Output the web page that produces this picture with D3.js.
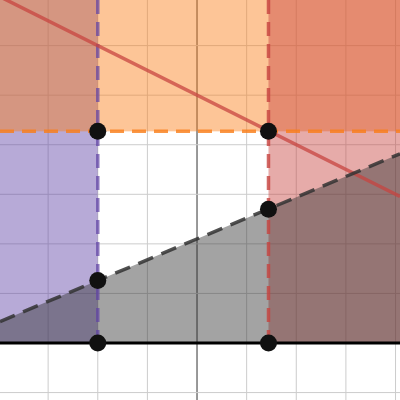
<!DOCTYPE html>
<html>
<head>
<meta charset="UTF-8"/>
<script src="https://cdn.jsdelivr.net/npm/d3@7"></script>
<style>body{margin:0;background:#fff}</style>
</head>
<body>
<div class="graph"></div>
<script>
// plane bounds and grid
const xDomain = [-3.97, 4.09];
const yDomain = [-1.15, 6.92];
const gridTicks = [-4, -3, -2, -1, 0, 1, 2, 3, 4, 5, 6, 7];

// boundaries
const xLeft = -2;        // purple: x < -2
const xRight = 1.44;     // red: x > 1.44
const yTop = 4.27;       // orange: y > 4.27
const slantB = 2.1, slantM = 0.42;   // dashed: y = 2.1 + 0.42x
const redB = 5, redM = -0.5;         // solid red: y = 5 - 0.5x

const pointsX = [-2, 1.44, -2, 1.44, -2, 1.44];
const pointsY = [4.27, 4.27, 0, 0, 1.26, 2.70];

const W = 400, H = 400;
const x = d3.scaleLinear().domain(xDomain).range([0, W]);
const y = d3.scaleLinear().domain(yDomain).range([0, H].reverse());

const svg = d3.select('.graph').append('svg').attr('width', W).attr('height', H);

// grid
svg.selectAll('.gx').data(gridTicks).enter().append('line')
	.attr('x1', d => x(d)).attr('x2', d => x(d)).attr('y1', 0).attr('y2', H)
	.style('stroke', d => d === 0 ? '#777' : '#ccc').style('stroke-width', d => d === 0 ? 1.5 : 1);
svg.selectAll('.gy').data(gridTicks).enter().append('line')
	.attr('y1', d => y(d)).attr('y2', d => y(d)).attr('x1', 0).attr('x2', W)
	.style('stroke', d => d === 0 ? '#777' : '#ccc').style('stroke-width', d => d === 0 ? 1.5 : 1);

const rect = (x0, x1, y0, y1, c) => svg.append('rect')
	.attr('x', x(x0)).attr('width', x(x1) - x(x0))
	.attr('y', y(y1)).attr('height', y(y0) - y(y1))
	.style('fill', c).style('fill-opacity', 0.45);

rect(xDomain[0], xLeft, 0, yDomain[1], '#6042a6');
rect(xDomain[0], xDomain[1], yTop, yDomain[1], '#fa7e19');
rect(xRight, xDomain[1], 0, yDomain[1], '#c74440');

// shaded area under the dashed slant line, above y = 0
const area = d3.area().x(d => x(d)).y0(y(0)).y1(d => y(slantB + slantM * d));
svg.append('path').datum(xDomain).attr('d', area)
	.style('fill', '#333').style('fill-opacity', 0.45);

const line = (b, m) => d3.line().x(d => x(d)).y(d => y(b + m * d))(xDomain);

svg.append('line').attr('x1', x(xLeft)).attr('x2', x(xLeft)).attr('y1', 0).attr('y2', y(0))
	.style('stroke', '#6042a6').style('stroke-width', 3.5).style('stroke-dasharray', '14,8').style('opacity', 0.7);
svg.append('line').attr('x1', x(xRight)).attr('x2', x(xRight)).attr('y1', 0).attr('y2', y(0))
	.style('stroke', '#c74440').style('stroke-width', 3.5).style('stroke-dasharray', '14,8').style('opacity', 0.8);
svg.append('line').attr('y1', y(yTop)).attr('y2', y(yTop)).attr('x1', 0).attr('x2', W)
	.style('stroke', '#fa7e19').style('stroke-width', 3.5).style('stroke-dasharray', '14,8').style('opacity', 0.8);
svg.append('path').attr('d', line(redB, redM)).style('fill', 'none')
	.style('stroke', '#c74440').style('stroke-width', 3.5).style('opacity', 0.75);
svg.append('path').attr('d', line(slantB, slantM)).style('fill', 'none')
	.style('stroke', '#333').style('stroke-width', 3.5).style('stroke-dasharray', '16,9').style('opacity', 0.85);
svg.append('line').attr('y1', y(0)).attr('y2', y(0)).attr('x1', 0).attr('x2', W)
	.style('stroke', '#000').style('stroke-width', 3);

svg.selectAll('circle').data(pointsX).enter().append('circle')
	.attr('cx', d => x(d)).attr('cy', (d, i) => y(pointsY[i])).attr('r', 8.5)
	.style('fill', '#111');
</script>
</body>
</html>
